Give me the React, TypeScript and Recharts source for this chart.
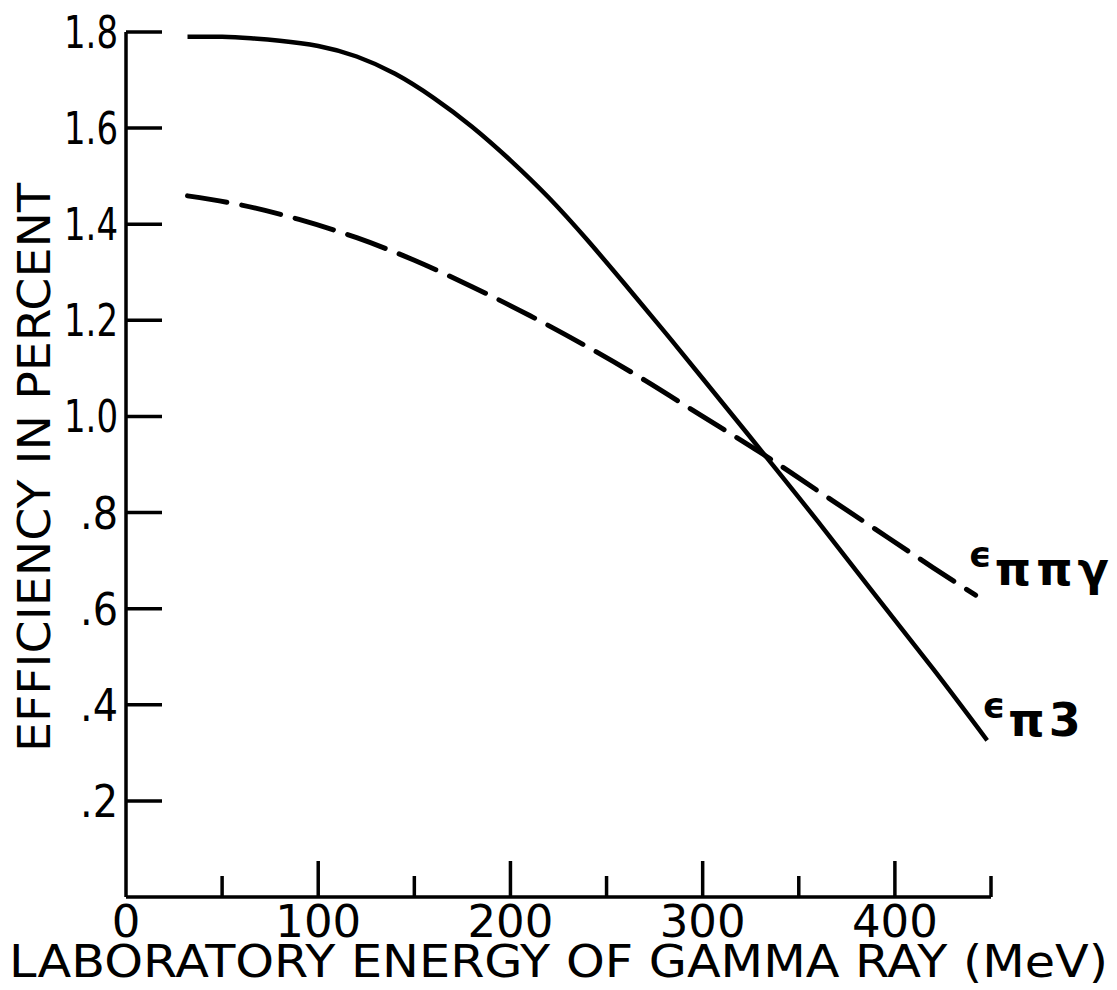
import React from 'react';
import { LineChart, Line, XAxis, YAxis, LabelList } from 'recharts';

// Laboratory energy of gamma ray (MeV) and efficiency (%) for epsilon_pi3 (solid)
const energyPi3 = [32, 50, 65, 80, 100, 120, 140, 160, 180, 200, 220, 240, 260, 280, 300, 330, 360, 390, 420, 448];
const effPi3 = [1.79, 1.79, 1.787, 1.782, 1.771, 1.749, 1.713, 1.663, 1.603, 1.533, 1.455, 1.367, 1.273, 1.177, 1.079, 0.931, 0.781, 0.627, 0.474, 0.326];

// epsilon_pi pi gamma (dashed)
const energyPiPiGamma = [32, 60, 90, 120, 150, 180, 210, 240, 270, 300, 330, 360, 390, 420, 442];
const effPiPiGamma = [1.459, 1.44, 1.41, 1.372, 1.325, 1.27, 1.21, 1.145, 1.075, 1.0, 0.925, 0.845, 0.765, 0.685, 0.628];

const xTicks = [0, 50, 100, 150, 200, 250, 300, 350, 400, 450];
const xTickLabels = ['0', '', '100', '', '200', '', '300', '', '400', ''];
const yTicks = [0.2, 0.4, 0.6, 0.8, 1.0, 1.2, 1.4, 1.6, 1.8];
const yTickLabels = ['.2', '.4', '.6', '.8', '1.0', '1.2', '1.4', '1.6', '1.8'];

const xTitle = 'LABORATORY ENERGY OF GAMMA RAY (MeV)';
const yTitle = 'EFFICIENCY IN PERCENT';
const labelPi3 = ['ϵ', 'π3'];
const labelPiPiGamma = ['ϵ', 'ππγ'];

const pi3Data = energyPi3.map((e, i) => ({ energy: e, eff: effPi3[i] }));
const piPiGammaData = energyPiPiGamma.map((e, i) => ({ energy: e, eff: effPiPiGamma[i] }));

const FONT = '"DejaVu Sans", "Liberation Sans", sans-serif';
const INK = '#000';

const XTick = (props: any) => {
  const { x, y, payload } = props;
  const v = payload.value;
  const idx = xTicks.indexOf(v);
  const label = idx >= 0 ? xTickLabels[idx] : '';
  const major = v % 100 === 0;
  return (
    <g>
      {v !== 0 && (
        <line x1={x} x2={x} y1={y} y2={y - (major ? 36 : 21)} stroke={INK} strokeWidth={3.5} />
      )}
      {label && (
        <text x={x} y={y + 40} textAnchor="middle" fontFamily={FONT} fontSize={45} fill={INK}>
          {label}
        </text>
      )}
    </g>
  );
};

const Y_MARGIN = 8;
const YTick = (props: any) => {
  const { x, y, payload } = props;
  const v = payload.value;
  const idx = yTicks.findIndex((t) => Math.abs(t - v) < 1e-9);
  const label = idx >= 0 ? yTickLabels[idx] : '';
  const ax = x + Y_MARGIN;
  return (
    <g>
      <line x1={ax} x2={ax + 36} y1={y} y2={y} stroke={INK} strokeWidth={3.5} />
      <text x={x} y={y + 16} textAnchor="end" fontFamily={FONT} fontSize={45} fill={INK}
        textLength={label.length === 3 ? 54 : 38} lengthAdjust="spacingAndGlyphs">
        {label}
      </text>
    </g>
  );
};

const XTitle = (props: any) => {
  const vb = props.viewBox || {};
  const cx = vb.x + vb.width / 2;
  return (
    <text x={cx} y={vb.y + 80} textAnchor="middle" fontFamily={FONT} fontSize={45} fill={INK}
      textLength={1099} lengthAdjust="spacingAndGlyphs">
      {xTitle}
    </text>
  );
};

const YTitle = (props: any) => {
  const vb = props.viewBox || {};
  const cy = vb.y + vb.height / 2 + 3;
  const bx = vb.x + 50;
  return (
    <text x={bx} y={cy} transform={`rotate(-90 ${bx} ${cy})`} textAnchor="middle" fontFamily={FONT}
      fontSize={45} fill={INK} textLength={569} lengthAdjust="spacingAndGlyphs">
      {yTitle}
    </text>
  );
};

const makeEndLabel = (lastValue: number, parts: string[], dx: number, dy: number, subDy: number, spacing: number) =>
  (p: any) => {
    if (p == null || p.value !== lastValue) return null;
    return (
      <text x={p.x + dx} y={p.y + dy} fontFamily={FONT} fill={INK} fontWeight="bold">
        <tspan fontSize={36}>{parts[0]}</tspan>
        <tspan fontSize={46} dy={subDy} dx={3} letterSpacing={spacing}>{parts[1]}</tspan>
      </text>
    );
  };

export default function App() {
  return (
    <div style={{ position: 'absolute', left: 0, top: 0, width: 1117, height: 990, background: '#fff' }}>
      <LineChart width={1117} height={990} margin={{ top: 32, right: 126, bottom: 0, left: 0 }}>
        <XAxis
          xAxisId={0}
          type="number"
          dataKey="energy"
          domain={[0, 450]}
          ticks={xTicks}
          interval={0}
          allowDataOverflow
          height={93}
          tickSize={0}
          tickMargin={0}
          tickLine={false}
          axisLine={{ stroke: INK, strokeWidth: 3.5 }}
          tick={<XTick />}
          label={<XTitle />}
        />
        <YAxis
          yAxisId={0}
          type="number"
          domain={[0, 1.8]}
          ticks={yTicks}
          interval={0}
          allowDataOverflow
          width={126}
          tickSize={0}
          tickMargin={Y_MARGIN}
          tickLine={false}
          axisLine={{ stroke: INK, strokeWidth: 3.5 }}
          tick={<YTick />}
          label={<YTitle />}
        />
        <Line
          data={pi3Data}
          dataKey="eff"
          type="natural"
          stroke={INK}
          strokeWidth={4.5}
          dot={false}
          activeDot={false}
          isAnimationActive={false}
        >
          <LabelList dataKey="eff" content={makeEndLabel(effPi3[effPi3.length - 1], labelPi3, -5, -22, 18, 4)} />
        </Line>
        <Line
          data={piPiGammaData}
          dataKey="eff"
          type="natural"
          stroke={INK}
          strokeWidth={5}
          strokeDasharray="40 15"
          strokeLinecap="round"
          dot={false}
          activeDot={false}
          isAnimationActive={false}
        >
          <LabelList dataKey="eff" content={makeEndLabel(effPiPiGamma[effPiPiGamma.length - 1], labelPiPiGamma, -7, -28, 18, 5)} />
        </Line>
      </LineChart>
    </div>
  );
}
